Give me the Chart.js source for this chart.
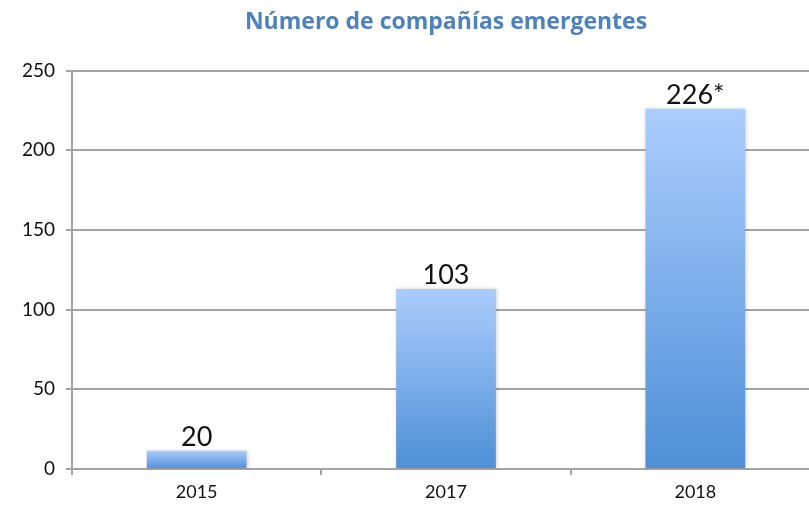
<!DOCTYPE html>
<html>
<head>
<meta charset="utf-8">
<script src="https://cdn.jsdelivr.net/npm/chart.js@4/dist/chart.umd.min.js"></script>
<style>
  html, body { margin: 0; padding: 0; background: #fff; overflow: hidden; }
  #wrap { position: relative; width: 840px; height: 505px; }
</style>
</head>
<body>
<div id="wrap"><canvas id="myChart" width="840" height="505"></canvas></div>
<script>
'use strict';

// data
var years = ['2015', '2017', '2018'];
var barHeights = [11.5, 113, 226];       // drawn heights of the bars
var barLabels = ['20', '103', '226*'];    // printed labels above the bars
var yTicks = [0, 50, 100, 150, 200, 250];

var gridColor = '#a4a4a4';

function barGradient(context) {
  var chart = context.chart;
  var y = chart.scales.y;
  if (!chart.chartArea || !y || context.type !== 'data') return '#7aaeea';
  var top = y.getPixelForValue(context.raw);
  var bottom = y.getPixelForValue(0);
  if (!isFinite(top) || !isFinite(bottom)) return '#7aaeea';
  var g = chart.ctx.createLinearGradient(0, top, 0, bottom);
  g.addColorStop(0, '#abcdfc');
  g.addColorStop(1, '#4e8fd7');
  return g;
}

// soft shadow round the bars
var barShadow = {
  id: 'barShadow',
  beforeDatasetsDraw: function(chart) {
    var ctx = chart.ctx;
    ctx.save();
    ctx.shadowColor = 'rgba(0,0,0,0.18)';
    ctx.shadowBlur = 4;
    ctx.shadowOffsetX = 1;
    ctx.shadowOffsetY = 0;
  },
  afterDatasetsDraw: function(chart) {
    chart.ctx.restore();
  }
};

// labels above the bars
var topLabels = {
  id: 'topLabels',
  afterDatasetsDraw: function(chart) {
    var ctx = chart.ctx;
    var meta = chart.getDatasetMeta(0);
    ctx.save();
    ctx.font = '27px Lato';
    ctx.fillStyle = '#111';
    ctx.textAlign = 'center';
    ctx.textBaseline = 'bottom';
    meta.data.forEach(function(bar, i) {
      ctx.fillText(barLabels[i], bar.x, bar.y);
    });
    ctx.restore();
  }
};

var chart = new Chart(document.getElementById('myChart').getContext('2d'), {
  type: 'bar',
  data: {
    labels: years,
    datasets: [{
      data: barHeights,
      backgroundColor: barGradient,
      borderWidth: 0,
      barPercentage: 0.8,
      categoryPercentage: 0.5
    }]
  },
  options: {
    responsive: false,
    animation: false,
    devicePixelRatio: 1,
    layout: { padding: { left: 0, right: 20, top: 0, bottom: 0 } },
    plugins: {
      legend: { display: false },
      tooltip: { enabled: false },
      title: {
        display: true,
        fullSize: false,
        text: 'Número de compañías emergentes',
        color: '#4f81bd',
        font: { family: 'Open Sans', size: 23, weight: 'bold' },
        padding: { top: 9, bottom: 34 },
        align: 'center'
      }
    },
    scales: {
      x: {
        grid: {
          offset: true,
          drawOnChartArea: false,
          color: gridColor,
          lineWidth: 2,
          tickLength: 6
        },
        border: { color: gridColor, width: 2 },
        ticks: {
          color: '#111',
          font: { family: 'Lato', size: 18 },
          padding: 6
        },
        afterFit: function(scale) { scale.height = 36; }
      },
      y: {
        min: 0,
        max: 250,
        afterBuildTicks: function(scale) {
          scale.ticks = yTicks.map(function(v) { return { value: v }; });
        },
        grid: {
          color: gridColor,
          lineWidth: 2,
          tickLength: 6
        },
        border: { color: gridColor, width: 2 },
        ticks: {
          color: '#111',
          font: { family: 'Lato', size: 19 },
          padding: 11
        },
        afterFit: function(scale) { scale.width = 72; }
      }
    }
  },
  plugins: [barShadow, topLabels]
});
</script>
</body>
</html>
